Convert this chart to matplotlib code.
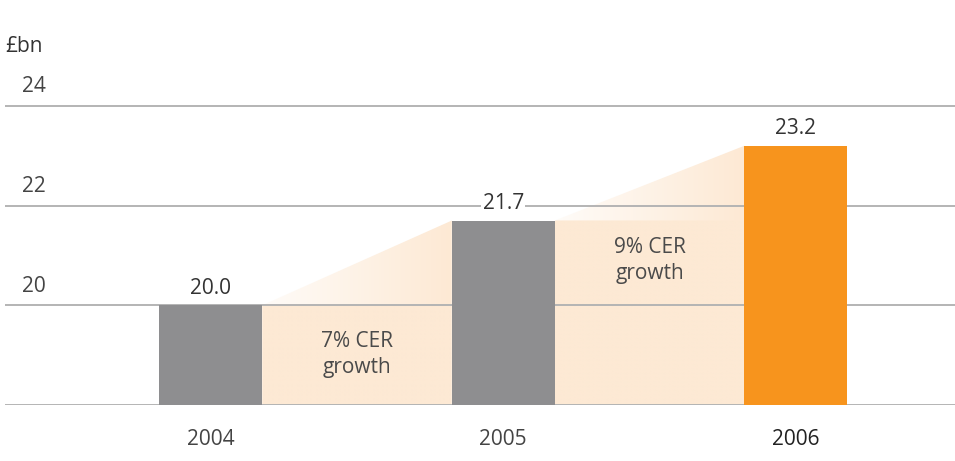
import numpy as np
import matplotlib.pyplot as plt
from matplotlib.patches import Polygon

years = ['2004', '2005', '2006']
revenue = [20.0, 21.7, 23.2]
growth = ['7% CER\ngrowth', '9% CER\ngrowth']
growth_y = [19.02, 20.9]
yticks = [20, 22, 24]

grey = '#8e8e90'
orange = '#f7941d'
peach = np.array([253, 233, 212]) / 255.0
grid_col = '#b4b4b4'
txt_col = '#4a4a4a'

plt.rcParams['font.family'] = ['Open Sans', 'DejaVu Sans']

fig = plt.figure(figsize=(9.55, 4.61), dpi=100)
ax = fig.add_axes([0.005, 0.1215, 0.995, 0.757])
x = np.arange(len(years))
w = 0.352
ax.set_xlim(-0.704, 2.544)
ax.set_ylim(18, 25)
ax.axis('off')

# shaded growth wedges between neighbouring bars
for i in range(len(years) - 1):
    xl, xr = x[i] + w / 2, x[i + 1] - w / 2
    y0, y1 = revenue[i], revenue[i + 1]
    verts = [(xl, 18), (xl, y0), (xr, y1), (xr, 18)]
    poly = Polygon(verts, closed=True, facecolor='none', edgecolor='none')
    ax.add_patch(poly)
    gx = np.linspace(xl, xr, 200)
    gy = np.linspace(18, y1, 200)
    GX, GY = np.meshgrid(gx, gy)
    t = np.clip(0.15 + 0.85 * (GX - xl) / (xr - xl), 0, 1)
    t = np.where(GY <= y0, 1.0, t)
    img = np.ones((200, 200, 3)) * (1 - t[..., None]) + peach * t[..., None]
    im = ax.imshow(img, extent=(xl, xr, 18, y1), origin='lower',
                   aspect='auto', zorder=1, interpolation='bilinear')
    im.set_clip_path(poly)
    ax.text((xl + xr) / 2, growth_y[i], growth[i],
            ha='center', va='center', fontsize=15, color=txt_col,
            linespacing=1.3, zorder=4)

for gy in [18] + yticks:
    ax.axhline(gy, color=grid_col, lw=1.4, zorder=2)

colors = [grey, grey, orange]
ax.bar(x, [v - 18 for v in revenue], width=w, bottom=18, color=colors,
       zorder=3)

for xi, v in zip(x, revenue):
    ax.text(xi, v + 0.34, f'{v:.1f}', ha='center', va='center', fontsize=15,
            color='#333333', zorder=5,
            bbox=dict(facecolor='white', edgecolor='none', pad=1))

for v in yticks:
    ax.text(-0.645, v + 0.38, str(v), ha='left', va='center', fontsize=15,
            color='#444444')

for xi, yr in zip(x, years):
    ax.text(xi, 17.3, yr, ha='center', va='center', fontsize=15,
            color='#222222' if yr == '2006' else '#444444')

fig.text(0.005, 0.9, '£bn', ha='left', va='center', fontsize=15,
         color='#333333')

fig.savefig('out.png', dpi=100, facecolor='white')
